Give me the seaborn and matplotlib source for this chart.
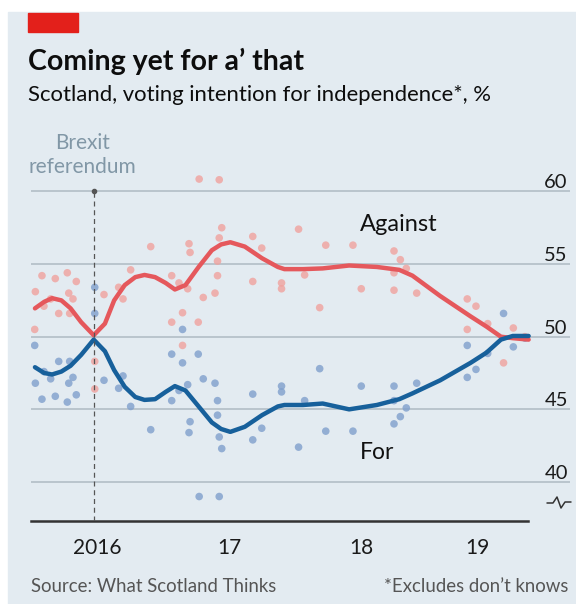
import numpy as np
import pandas as pd
import matplotlib.pyplot as plt
import matplotlib.transforms as mtransforms
from matplotlib.patches import Rectangle
from matplotlib.lines import Line2D
import seaborn as sns

# poll dates (decimal years) and shares
poll_date = [2016.028, 2016.033, 2016.083, 2016.098, 2016.149, 2016.184, 2016.210, 2016.275,
             2016.286, 2016.293, 2016.318, 2016.343, 2016.483, 2016.483, 2016.553, 2016.664,
             2016.697, 2016.755, 2016.907, 2017.066, 2017.066, 2017.121, 2017.148, 2017.148,
             2017.187, 2017.197, 2017.205, 2017.267, 2017.274, 2017.305, 2017.394, 2017.413,
             2017.413, 2017.426, 2017.426, 2017.445, 2017.680, 2017.680, 2017.748, 2017.898,
             2017.898, 2018.027, 2018.073, 2018.187, 2018.233, 2018.439, 2018.502, 2018.750,
             2018.750, 2018.750, 2018.798, 2018.843, 2018.922, 2019.305, 2019.305, 2019.371,
             2019.460, 2019.580, 2019.654, 2019.742]
poll_against = [50.5, 53.1, 54.2, 52.1, 52.6, 54.0, 51.6, 54.4,
                53.0, 51.6, 52.6, 53.8, 46.4, 48.3, 52.9, 53.4,
                52.6, 54.6, 56.2, 54.2, 51.0, 53.7, 51.65, 49.4,
                53.3, 56.4, 55.8, 51.0, 60.85, 52.7, 53.0, 54.2,
                55.2, 60.8, 56.8, 57.5, 53.8, 56.9, 56.1, 53.3,
                53.7, 57.4, 54.25, 52.0, 56.3, 56.3, 53.3, 53.2,
                55.9, 54.4, 55.3, 54.7, 53.0, 52.6, 50.5, 52.1,
                50.9, 48.2, 50.6, 50.0]
poll_for = [49.4, 46.8, 45.7, 47.6, 47.1, 45.9, 48.3, 45.5,
            46.8, 48.3, 47.2, 46.0, 53.4, 51.6, 47.0, 46.45,
            47.3, 45.2, 43.6, 45.6, 48.8, 46.3, 48.2, 50.5,
            46.7, 43.4, 44.15, 48.8, 39.0, 47.1, 46.8, 45.6,
            44.6, 39.0, 43.1, 42.3, 46.05, 42.9, 43.7, 46.6,
            46.2, 42.4, 45.6, 47.8, 43.5, 43.5, 46.6, 46.6,
            44.0, 45.6, 44.5, 45.1, 46.8, 47.2, 49.4, 47.75,
            48.85, 51.6, 49.3, 49.9]

# smoothed trend lines
trend_date = [2016.03, 2016.10, 2016.16, 2016.23, 2016.30, 2016.38, 2016.475, 2016.56, 2016.63,
              2016.71, 2016.79, 2016.86, 2016.94, 2017.02, 2017.09, 2017.17, 2017.27, 2017.37,
              2017.44, 2017.51, 2017.62, 2017.75, 2017.87, 2017.92, 2018.06, 2018.21, 2018.41,
              2018.62, 2018.79, 2018.89, 2019.10, 2019.33, 2019.45, 2019.56, 2019.65, 2019.77]
trend_against = [51.95, 52.4, 52.65, 52.5, 51.95, 51.0, 50.1, 50.9, 52.5,
                 53.55, 54.1, 54.25, 54.1, 53.7, 53.25, 53.55, 54.8, 55.95,
                 56.35, 56.5, 56.2, 55.4, 54.8, 54.65, 54.65, 54.7, 54.9,
                 54.8, 54.6, 54.2, 52.8, 51.4, 50.7, 50.0, 49.9, 49.8]
trend_for = [47.9, 47.5, 47.4, 47.6, 48.0, 48.75, 49.8, 49.0, 47.7,
             46.55, 45.85, 45.65, 45.7, 46.2, 46.6, 46.3, 45.2, 44.1,
             43.65, 43.45, 43.8, 44.6, 45.2, 45.3, 45.3, 45.4, 45.0,
             45.3, 45.7, 46.1, 47.0, 48.2, 48.9, 49.8, 50.05, 50.05]

brexit_date = 2016.48
year_ticks = [2016, 2017, 2018, 2019, 2019.765]
year_mid = [2016.5, 2017.5, 2018.5, 2019.38]
year_labels = ["2016", "17", "18", "19"]
y_ticks = [40, 45, 50, 55, 60]

polls = pd.DataFrame({"date": poll_date * 2,
                      "share": poll_against + poll_for,
                      "side": ["Against"] * len(poll_date) + ["For"] * len(poll_date)})
trend = pd.DataFrame({"date": trend_date * 2,
                      "share": trend_against + trend_for,
                      "side": ["Against"] * len(trend_date) + ["For"] * len(trend_date)})

sns.set_style("white")
plt.rcParams['font.family'] = ['Lato', 'DejaVu Sans']

W, H = 576, 604
fig = plt.figure(figsize=(W / 100, H / 100), dpi=100)
fig.patch.set_facecolor("white")
bg = "#e3ebf1"
fig.patches.append(Rectangle((8 / W, 0), 1, 1 - 12 / H, transform=fig.transFigure,
                             color=bg, zorder=-10))
fig.patches.append(Rectangle((28 / W, 1 - 32 / H), 50 / W, 19 / H, transform=fig.transFigure,
                             color="#e3201b", zorder=5))

ax = fig.add_axes([31 / W, (H - 521) / H, (570 - 31) / W, (521 - 150) / H])
ax.set_facecolor("none")

sns.scatterplot(data=polls, x="date", y="share", hue="side",
                palette={"Against": "#f0a29e", "For": "#7f9fcc"},
                s=30, linewidth=0, alpha=0.8, legend=False, ax=ax, zorder=2)
sns.lineplot(data=trend, x="date", y="share", hue="side",
             palette={"Against": "#e5585c", "For": "#17609b"},
             linewidth=3.2, legend=False, ax=ax, zorder=3,
             solid_joinstyle="round", solid_capstyle="round")

ax.set_xlim(2016.0, 2016 + (570 - 31) / 132)
ax.set_ylim(50 - (521 - 336.7) / 14.53, 50 + (336.7 - 150) / 14.53)
ax.set_xlabel("")
ax.set_ylabel("")

# gridlines
for v in y_ticks:
    ax.axhline(v, color="#b9c4cc", lw=1.4, zorder=1)
ax.set_yticks([])

# y labels above gridlines, right aligned
lab_tr = mtransforms.offset_copy(ax.get_yaxis_transform(), fig=fig, y=3, units="dots")
for v in y_ticks:
    ax.text(0.996, v, str(v), transform=lab_tr, ha="right", va="baseline",
            fontsize=14.5, color="#1a1a1a")

# x axis
for s in ["top", "right", "left"]:
    ax.spines[s].set_visible(False)
ax.spines["bottom"].set_bounds(2016, 2019.765)
ax.spines["bottom"].set_linewidth(1.8)
ax.spines["bottom"].set_color("#333333")
ax.set_xticks(year_ticks)
ax.set_xticklabels([])
ax.set_xticks(year_mid, minor=True)
ax.set_xticklabels(year_labels, minor=True)
ax.tick_params(axis="x", which="major", direction="out", length=9, width=1.5, color="#333333")
ax.tick_params(axis="x", which="minor", length=0, pad=12, labelsize=15, labelcolor="#1a1a1a")

# referendum marker
ax.vlines(brexit_date, ax.get_ylim()[0], 60, colors="#555555", linestyles=(0, (4, 3)), lw=0.9, zorder=4)
ax.plot([brexit_date], [60], "o", ms=3, color="#555555", zorder=4)
ax.text(2016.39, 63.33, "Brexit", ha="center", va="center", fontsize=15,
        color="#8197a6", clip_on=False)
ax.text(2016.39, 61.68, "referendum", ha="center", va="center", fontsize=15,
        color="#8197a6", clip_on=False)

ax.text(2018.49, 57.7, "Against", ha="left", va="center", fontsize=17, color="#111111")
ax.text(2018.49, 42.0, "For", ha="left", va="center", fontsize=16.5, color="#111111")

# axis break glyph
fig.lines.append(Line2D(np.array([547, 553, 557, 561, 565, 571]) / W,
                        1 - np.array([503, 503, 497, 508, 502, 502]) / H,
                        transform=fig.transFigure, color="#333333", lw=1.1))

fig.text(28 / W, 1 - 70 / H, "Coming yet for a\u2019 that", fontsize=20.5, fontweight="bold",
         color="#0d0d0d", va="baseline")
fig.text(28 / W, 1 - 101 / H, "Scotland, voting intention for independence*, %", fontsize=15.9,
         color="#0d0d0d", va="baseline")
fig.text(31 / W, 1 - 592 / H, "Source: What Scotland Thinks", fontsize=13.4, color="#555555",
         va="baseline")
fig.text(568 / W, 1 - 592 / H, "*Excludes don\u2019t knows", fontsize=13.4, color="#555555",
         va="baseline", ha="right")

fig.savefig("out.png", dpi=100, facecolor=fig.get_facecolor())
